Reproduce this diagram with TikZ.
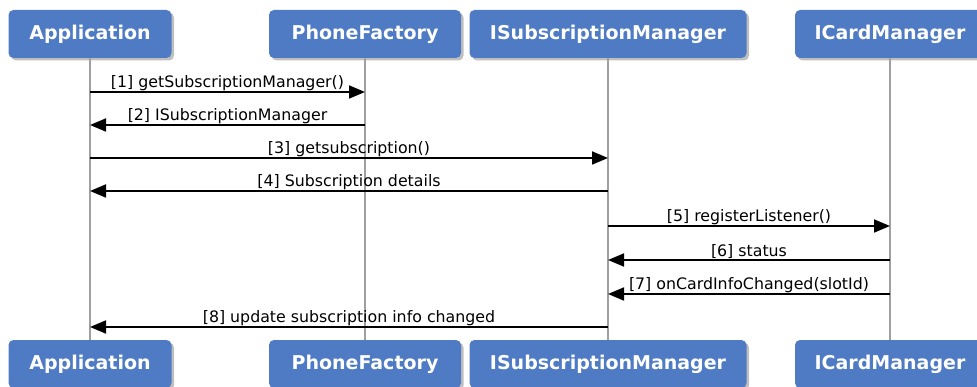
\documentclass[tikz,border=0pt]{standalone}
\usepackage{fontspec}
\setmainfont{DejaVu Sans}
\usepackage{tikz}
\usetikzlibrary{arrows.meta,shadows}
\definecolor{boxblue}{RGB}{79,123,197}
\definecolor{lifegray}{RGB}{160,160,160}

\begin{document}
\begin{tikzpicture}[x=1pt,y=-1pt,
        actor/.style={fill=boxblue, rounded corners=5pt, minimum height=48pt,
            text=white, font=\fontsize{19}{21}\selectfont\bfseries,
            drop shadow={shadow xshift=2.5pt, shadow yshift=-2.5pt, opacity=0.5}},
        life/.style={lifegray, line width=2pt},
        msg/.style={black, line width=1.8pt, -{Triangle[length=16pt,width=13pt]}},
        lbl/.style={above, inner sep=0.8pt, font=\fontsize{15.8}{18}\selectfont}]
        \useasboundingbox (0,0) rectangle (977,387);
        \clip (0,0) rectangle (977,387);

        % participants, top and bottom
        \node[actor, minimum width=163pt] (app) at (90,34) {Application};
        \node[actor, minimum width=192pt] (pf) at (365,34) {PhoneFactory};
        \node[actor, minimum width=277pt] (ism) at (608,34) {ISubscriptionManager};
        \node[actor, minimum width=190pt] (icm) at (890,34) {ICardManager};

        \node[actor, minimum width=163pt] (appB) at (90,364) {Application};
        \node[actor, minimum width=192pt] (pfB) at (365,364) {PhoneFactory};
        \node[actor, minimum width=277pt] (ismB) at (608,364) {ISubscriptionManager};
        \node[actor, minimum width=190pt] (icmB) at (890,364) {ICardManager};

        % lifelines
        \draw[life] (app) -- (appB);
        \draw[life] (pf) -- (pfB);
        \draw[life] (ism) -- (ismB);
        \draw[life] (icm) -- (icmB);

        \foreach \i/\y in {1/92,2/125,3/158,4/191,5/226,6/260,7/294,8/327}
            \coordinate (m\i) at (0,\y);

        % messages
        \draw[msg] (app |- m1) -- node[lbl]{[1] getSubscriptionManager()} (pf |- m1);
        \draw[msg] (pf |- m2) -- node[lbl]{[2] ISubscriptionManager} (app |- m2);
        \draw[msg] (app |- m3) -- node[lbl]{[3] getsubscription()} (ism |- m3);
        \draw[msg] (ism |- m4) -- node[lbl]{[4] Subscription details} (app |- m4);
        \draw[msg] (ism |- m5) -- node[lbl]{[5] registerListener()} (icm |- m5);
        \draw[msg] (icm |- m6) -- node[lbl]{[6] status} (ism |- m6);
        \draw[msg] (icm |- m7) -- node[lbl]{[7] onCardInfoChanged(slotId)} (ism |- m7);
        \draw[msg] (ism |- m8) -- node[lbl]{[8] update subscription info changed} (app |- m8);

\end{tikzpicture}
\end{document}
